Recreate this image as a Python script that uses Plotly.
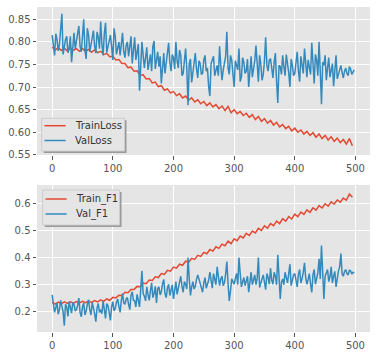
import plotly.graph_objects as go
from plotly.subplots import make_subplots

# ---- data ----
train_epochs = list(range(0, 500, 5))
train_loss = [
    0.788, 0.782, 0.787, 0.781, 0.786, 0.780, 0.787, 0.781, 0.785, 0.779,
    0.785, 0.779, 0.783, 0.777, 0.782, 0.776, 0.779, 0.772, 0.774, 0.767,
    0.768, 0.760, 0.761, 0.752, 0.752, 0.743, 0.744, 0.735, 0.736, 0.726,
    0.727, 0.718, 0.719, 0.709, 0.711, 0.701, 0.703, 0.693, 0.696, 0.687,
    0.690, 0.681, 0.685, 0.676, 0.680, 0.671, 0.676, 0.667, 0.672, 0.663,
    0.668, 0.659, 0.665, 0.656, 0.661, 0.652, 0.658, 0.648, 0.657, 0.643,
    0.650, 0.641, 0.646, 0.637, 0.642, 0.633, 0.639, 0.628, 0.635, 0.624,
    0.630, 0.620, 0.626, 0.616, 0.622, 0.612, 0.617, 0.608, 0.613, 0.603,
    0.609, 0.600, 0.605, 0.596, 0.602, 0.593, 0.599, 0.589, 0.596, 0.586,
    0.593, 0.583, 0.590, 0.580, 0.587, 0.577, 0.584, 0.574, 0.586, 0.570,
]
train_f1 = [
    0.232, 0.226, 0.233, 0.227, 0.234, 0.228, 0.234, 0.229, 0.235, 0.230,
    0.236, 0.231, 0.237, 0.232, 0.239, 0.234, 0.242, 0.236, 0.245, 0.240,
    0.251, 0.249, 0.259, 0.258, 0.270, 0.268, 0.280, 0.280, 0.292, 0.291,
    0.304, 0.302, 0.316, 0.314, 0.328, 0.325, 0.340, 0.337, 0.352, 0.349,
    0.364, 0.360, 0.375, 0.371, 0.386, 0.382, 0.397, 0.393, 0.408, 0.404,
    0.419, 0.414, 0.430, 0.424, 0.440, 0.434, 0.450, 0.444, 0.461, 0.452,
    0.470, 0.463, 0.480, 0.473, 0.490, 0.482, 0.499, 0.492, 0.509, 0.501,
    0.518, 0.510, 0.527, 0.519, 0.536, 0.527, 0.545, 0.536, 0.553, 0.544,
    0.562, 0.553, 0.570, 0.561, 0.578, 0.569, 0.586, 0.577, 0.594, 0.585,
    0.601, 0.592, 0.608, 0.600, 0.615, 0.607, 0.622, 0.614, 0.637, 0.625,
]

val_epochs = list(range(0, 500, 2))
val_loss = [
    0.815, 0.792, 0.770, 0.818, 0.805, 0.780, 0.795, 0.828, 0.862, 0.772,
    0.790, 0.805, 0.812, 0.776, 0.785, 0.812, 0.755, 0.798, 0.820, 0.784,
    0.800, 0.820, 0.835, 0.790, 0.778, 0.812, 0.850, 0.782, 0.762, 0.830,
    0.815, 0.778, 0.792, 0.808, 0.825, 0.790, 0.775, 0.822, 0.810, 0.785,
    0.845, 0.795, 0.770, 0.818, 0.842, 0.776, 0.790, 0.808, 0.815, 0.790,
    0.760, 0.830, 0.812, 0.772, 0.785, 0.800, 0.770, 0.805, 0.820, 0.778,
    0.765, 0.792, 0.800, 0.768, 0.790, 0.812, 0.752, 0.780, 0.810, 0.760,
    0.775, 0.795, 0.692, 0.745, 0.800, 0.770, 0.742, 0.765, 0.788, 0.738,
    0.755, 0.772, 0.735, 0.790, 0.802, 0.740, 0.760, 0.778, 0.745, 0.768,
    0.708, 0.742, 0.775, 0.730, 0.750, 0.780, 0.798, 0.755, 0.735, 0.772,
    0.765, 0.740, 0.800, 0.758, 0.742, 0.782, 0.770, 0.725, 0.730, 0.758,
    0.785, 0.740, 0.660, 0.752, 0.762, 0.710, 0.735, 0.762, 0.775, 0.740,
    0.720, 0.758, 0.752, 0.728, 0.730, 0.760, 0.770, 0.735, 0.742, 0.700,
    0.680, 0.752, 0.760, 0.768, 0.725, 0.735, 0.748, 0.725, 0.790, 0.748,
    0.715, 0.738, 0.752, 0.768, 0.822, 0.742, 0.728, 0.770, 0.760, 0.725,
    0.700, 0.758, 0.745, 0.738, 0.785, 0.712, 0.722, 0.765, 0.755, 0.730,
    0.735, 0.762, 0.700, 0.742, 0.768, 0.722, 0.740, 0.758, 0.792, 0.738,
    0.712, 0.770, 0.750, 0.715, 0.728, 0.758, 0.810, 0.748, 0.735, 0.760,
    0.762, 0.742, 0.720, 0.755, 0.775, 0.712, 0.665, 0.748, 0.745, 0.728,
    0.770, 0.745, 0.725, 0.772, 0.755, 0.732, 0.700, 0.762, 0.748, 0.725,
    0.730, 0.752, 0.778, 0.735, 0.712, 0.768, 0.752, 0.730, 0.785, 0.748,
    0.722, 0.760, 0.745, 0.728, 0.798, 0.755, 0.708, 0.772, 0.760, 0.725,
    0.800, 0.735, 0.662, 0.755, 0.748, 0.770, 0.715, 0.742, 0.765, 0.722,
    0.735, 0.752, 0.702, 0.740, 0.770, 0.718, 0.728, 0.742, 0.748, 0.732,
    0.720, 0.735, 0.742, 0.730, 0.725, 0.745, 0.740, 0.728, 0.732, 0.738,
]
val_f1 = [
    0.260, 0.228, 0.195, 0.212, 0.230, 0.188, 0.205, 0.240, 0.222, 0.198,
    0.145, 0.225, 0.215, 0.180, 0.235, 0.210, 0.192, 0.232, 0.225, 0.200,
    0.205, 0.222, 0.248, 0.195, 0.178, 0.215, 0.230, 0.185, 0.200, 0.225,
    0.242, 0.205, 0.185, 0.232, 0.215, 0.190, 0.160, 0.212, 0.228, 0.195,
    0.205, 0.190, 0.238, 0.210, 0.172, 0.228, 0.220, 0.195, 0.165, 0.215,
    0.235, 0.200, 0.210, 0.232, 0.245, 0.218, 0.195, 0.240, 0.265, 0.230,
    0.225, 0.245, 0.250, 0.225, 0.205, 0.258, 0.272, 0.240, 0.238, 0.215,
    0.262, 0.240, 0.215, 0.280, 0.350, 0.265, 0.255, 0.238, 0.290, 0.262,
    0.240, 0.275, 0.305, 0.250, 0.265, 0.292, 0.230, 0.285, 0.290, 0.260,
    0.272, 0.302, 0.318, 0.265, 0.250, 0.285, 0.300, 0.258, 0.275, 0.298,
    0.245, 0.278, 0.310, 0.262, 0.285, 0.305, 0.330, 0.292, 0.270, 0.310,
    0.300, 0.282, 0.400, 0.320, 0.258, 0.290, 0.310, 0.282, 0.292, 0.318,
    0.335, 0.320, 0.305, 0.290, 0.270, 0.305, 0.325, 0.285, 0.300, 0.315,
    0.345, 0.308, 0.285, 0.340, 0.320, 0.298, 0.365, 0.315, 0.295, 0.320,
    0.330, 0.295, 0.305, 0.338, 0.385, 0.300, 0.238, 0.275, 0.320, 0.310,
    0.300, 0.322, 0.340, 0.298, 0.400, 0.340, 0.290, 0.308, 0.325, 0.295,
    0.310, 0.330, 0.270, 0.318, 0.345, 0.298, 0.315, 0.335, 0.298, 0.322,
    0.400, 0.288, 0.305, 0.320, 0.335, 0.308, 0.280, 0.340, 0.325, 0.300,
    0.360, 0.315, 0.300, 0.345, 0.330, 0.298, 0.410, 0.330, 0.245, 0.308,
    0.320, 0.298, 0.345, 0.325, 0.305, 0.340, 0.375, 0.295, 0.315, 0.335,
    0.340, 0.315, 0.290, 0.338, 0.355, 0.305, 0.320, 0.345, 0.380, 0.325,
    0.300, 0.318, 0.340, 0.300, 0.270, 0.335, 0.355, 0.300, 0.325, 0.342,
    0.395, 0.320, 0.445, 0.340, 0.245, 0.330, 0.340, 0.355, 0.310, 0.328,
    0.365, 0.305, 0.330, 0.348, 0.290, 0.325, 0.350, 0.365, 0.415, 0.338,
    0.330, 0.348, 0.355, 0.340, 0.335, 0.352, 0.350, 0.338, 0.345, 0.342,
]

x_ticks = [0, 100, 200, 300, 400, 500]
loss_ticks = [0.55, 0.60, 0.65, 0.70, 0.75, 0.80, 0.85]
f1_ticks = [0.2, 0.3, 0.4, 0.5, 0.6]
legend_top = ["TrainLoss", "ValLoss"]
legend_bottom = ["Train_F1", "Val_F1"]

RED = "#E24A33"
BLUE = "#348ABD"
BG = "#E5E5E5"
FONT = "DejaVu Sans"

W, H = 378, 357
ML, MR, MT, MB = 37, 8, 7, 25
PW, PH = W - ML - MR, H - MT - MB


def py(pix):
    # pixel row -> paper y
    return 1 - (pix - MT) / PH


def px(pix):
    return (pix - ML) / PW


fig = make_subplots(rows=2, cols=1)

fig.add_trace(go.Scatter(x=train_epochs, y=train_loss, mode="lines", name=legend_top[0],
                         line=dict(color=RED, width=1.5), showlegend=False), row=1, col=1)
fig.add_trace(go.Scatter(x=val_epochs, y=val_loss, mode="lines", name=legend_top[1],
                         line=dict(color=BLUE, width=1.5), showlegend=False), row=1, col=1)
fig.add_trace(go.Scatter(x=train_epochs, y=train_f1, mode="lines", name=legend_bottom[0],
                         line=dict(color=RED, width=1.5), showlegend=False), row=2, col=1)
fig.add_trace(go.Scatter(x=val_epochs, y=val_f1, mode="lines", name=legend_bottom[1],
                         line=dict(color=BLUE, width=1.5), showlegend=False), row=2, col=1)

axis_common = dict(showgrid=True, gridcolor="white", gridwidth=1, zeroline=False,
                   showline=False, ticks="outside", ticklen=3.5, tickwidth=1,
                   tickcolor="#555555", automargin=False,
                   tickfont=dict(family=FONT, size=10, color="#555555"))

fig.update_xaxes(range=[-25, 524], tickvals=x_ticks, domain=[0, 1], **axis_common)
fig.update_yaxes(**axis_common)
fig.update_yaxes(range=[0.5497, 0.877], tickvals=loss_ticks,
                 ticktext=[f"{v:.2f}" for v in loss_ticks],
                 domain=[py(155), 1], row=1, col=1)
fig.update_yaxes(range=[0.1215, 0.671], tickvals=f1_ticks,
                 ticktext=[f"{v:.1f}" for v in f1_ticks],
                 domain=[0, py(185)], row=2, col=1)

# ---- legends (matplotlib-style boxes with shadow) ----
shapes = []
annotations = []


def add_legend(box, entries):
    x0, y0, x1, y1 = box
    shapes.append(dict(type="rect", xref="paper", yref="paper",
                       x0=px(x0 + 2), x1=px(x1 + 2), y0=py(y1 + 2), y1=py(y0 + 2),
                       fillcolor="#9A9A9A", line=dict(width=0), layer="above"))
    shapes.append(dict(type="rect", xref="paper", yref="paper",
                       x0=px(x0), x1=px(x1), y0=py(y1), y1=py(y0),
                       fillcolor=BG, line=dict(color="#CCCCCC", width=1), layer="above"))
    for label, color, yy in entries:
        shapes.append(dict(type="line", xref="paper", yref="paper",
                           x0=px(x0 + 2.8), x1=px(x0 + 24), y0=py(yy), y1=py(yy),
                           line=dict(color=color, width=1.5), layer="above"))
        annotations.append(dict(text=label, xref="paper", yref="paper",
                                x=px(x0 + 31), y=py(yy), xanchor="left", yanchor="middle",
                                showarrow=False,
                                font=dict(family=FONT, size=10, color="#333333")))


add_legend((41.7, 118.3, 124.5, 151), [(legend_top[0], RED, 125.7),
                                      (legend_top[1], BLUE, 140.5)])
add_legend((42.7, 190, 119.5, 225), [(legend_bottom[0], RED, 199),
                                    (legend_bottom[1], BLUE, 214)])

fig.update_layout(
    width=W, height=H,
    margin=dict(l=ML, r=MR, t=MT, b=MB, pad=0),
    paper_bgcolor="white", plot_bgcolor=BG,
    showlegend=False,
    shapes=shapes,
    annotations=annotations,
)

fig.write_html("out.html", config={"displayModeBar": False},
               post_script="document.body.style.margin='0';document.body.style.overflow='hidden';")
